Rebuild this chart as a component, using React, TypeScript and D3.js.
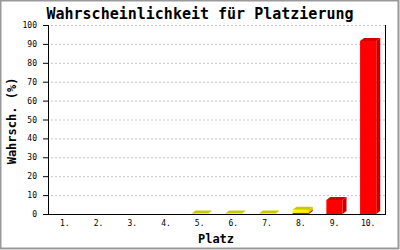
import React from "react";
import * as d3 from "d3";

const places = ["1.", "2.", "3.", "4.", "5.", "6.", "7.", "8.", "9.", "10."];
const redValues = [0, 0, 0, 0, 0, 0, 0, 0.6, 7.4, 91.6];
const yellowValues = [0, 0, 0, 0, 0.2, 0.2, 0.2, 1.6, 0, 0];
const yTicks = [0, 10, 20, 30, 40, 50, 60, 70, 80, 90, 100];
const titleText = "Wahrscheinlichkeit für Platzierung";
const xTitle = "Platz";
const yTitle = "Wahrsch. (%)";

const W = 400;
const H = 250;
const left = 48;
const right = 385;
const top = 25;
const bottom = 214;
const DX = 4;
const DY = 3;
const mono = "'DejaVu Sans Mono', 'Liberation Mono', monospace";

const series = [
  { values: redValues, front: "#ff0000", topC: "#d40000", side: "#cc0000" },
  { values: yellowValues, front: "#ffff00", topC: "#c8c800", side: "#cccc00" },
];

export default function App() {
  const x = d3.scaleBand<string>().domain(places).range([left, right]).paddingInner(0.52).paddingOuter(0.26);
  const y = d3.scaleLinear().domain([0, 100]).range([bottom, top]);
  const bw = x.bandwidth();

  const bars: React.ReactElement[] = [];
  places.forEach((p, i) => {
    let base = 0;
    series.forEach((s, si) => {
      const v = s.values[i];
      if (v <= 0) return;
      const x0 = x(p)!;
      const y0 = y(base);
      const y1 = y(base + v);
      base += v;
      bars.push(
        <g key={`${i}-${si}`}>
          <polygon
            points={`${x0 + bw},${y1} ${x0 + bw + DX},${y1 - DY} ${x0 + bw + DX},${y0 - DY} ${x0 + bw},${y0}`}
            fill={s.side}
          />
          <polygon
            points={`${x0},${y1} ${x0 + DX},${y1 - DY} ${x0 + bw + DX},${y1 - DY} ${x0 + bw},${y1}`}
            fill={s.topC}
          />
          <rect x={x0} y={y1} width={bw} height={y0 - y1} fill={s.front} />
        </g>
      );
    });
  });

  return (
    <svg
      width={W}
      height={H}
      style={{ position: "absolute", left: 0, top: 0, background: "#fff" }}
    >
      <rect x={0} y={0} width={W} height={H} fill="#fff" />
      <rect x={0.5} y={0.5} width={398} height={248} fill="none" stroke="#999" strokeWidth={2} />
      <text x={200} y={19} textAnchor="middle" fontFamily={mono} fontWeight="bold" fontSize={15} fill="#000">
        {titleText}
      </text>
      {yTicks.map((t) => (
        <g key={t}>
          {t > 0 && (
            <line x1={left + 3} x2={right} y1={y(t) + 0.5} y2={y(t) + 0.5} stroke="#c4c4c4" strokeDasharray="2,2" />
          )}
          <line x1={left - 5} x2={left} y1={y(t) + 0.5} y2={y(t) + 0.5} stroke="#000" />
          <text x={37} y={y(t) + 3} textAnchor="end" fontFamily={mono} fontSize={8} fill="#000">
            {t}
          </text>
        </g>
      ))}
      {bars}
      <line x1={left + 0.5} x2={left + 0.5} y1={top} y2={bottom + 0.5} stroke="#000" />
      <line x1={right + 0.5} x2={right + 0.5} y1={top} y2={bottom + 0.5} stroke="#000" />
      <line x1={left} x2={right + 1} y1={bottom + 0.5} y2={bottom + 0.5} stroke="#000" />
      {places.map((p) => (
        <text key={p} x={x(p)! + bw / 2} y={226} textAnchor="middle" fontFamily={mono} fontSize={8} fill="#000">
          {p}
        </text>
      ))}
      <text x={216} y={243} textAnchor="middle" fontFamily={mono} fontWeight="bold" fontSize={12} fill="#000">
        {xTitle}
      </text>
      <text
        transform={`translate(16,121) rotate(-90)`}
        textAnchor="middle"
        fontFamily={mono}
        fontWeight="bold"
        fontSize={12}
        fill="#000"
      >
        {yTitle}
      </text>
    </svg>
  );
}
